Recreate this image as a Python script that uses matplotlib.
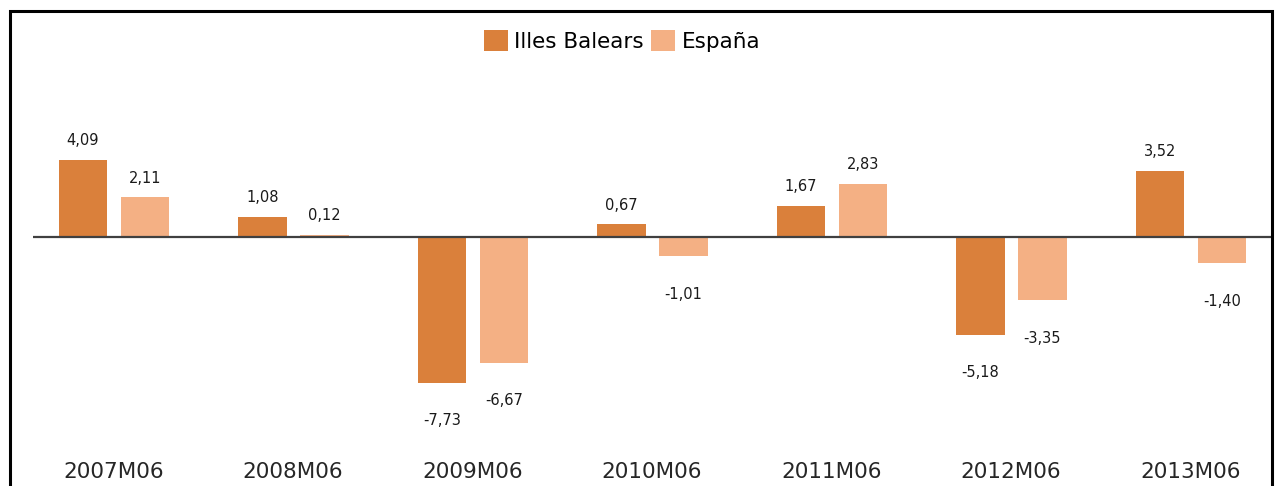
import matplotlib
matplotlib.use('Agg')
from matplotlib import pyplot as plt
from matplotlib.patches import Rectangle
import numpy as np

# datos
periodos = ['2007M06', '2008M06', '2009M06', '2010M06', '2011M06', '2012M06', '2013M06']
illes_balears = [4.09, 1.08, -7.73, 0.67, 1.67, -5.18, 3.52]
espana = [2.11, 0.12, -6.67, -1.01, 2.83, -3.35, -1.40]

col_ib = '#DA803B'
col_es = '#F4B084'

W, H = 1282, 486
fig = plt.figure(figsize=(W / 100, H / 100), dpi=100)

# ejes en pixeles: x 33..1271, y 60..450 (desde arriba)
ax = fig.add_axes([33 / W, 1 - 450 / H, (1271 - 33) / W, (450 - 60) / H])

x = np.arange(len(periodos))
ancho = 0.27
b1 = ax.bar(x - 0.17, illes_balears, ancho, color=col_ib, label='Illes Balears', zorder=2)
b2 = ax.bar(x + 0.175, espana, ancho, color=col_es, label='España', zorder=2)

ax.axhline(0, color='#404040', lw=1.6, zorder=3)

# etiquetas de valores
for barras, vals in [(b1, illes_balears), (b2, espana)]:
    for rect, v in zip(barras, vals):
        cx = rect.get_x() + rect.get_width() / 2
        off = 13.7 if v >= 0 else -27.4
        ax.annotate(f'{v:.2f}'.replace('.', ','), (cx, v), xytext=(0, off),
                    textcoords='offset points', ha='center', va='center',
                    fontsize=10.5, color='#1a1a1a')

ax.set_xlim(-0.4485, 6.4485)
ax.set_ylim(-11.30, 9.39)
ax.set_xticks(x)
ax.set_xticklabels(periodos, fontsize=15.5, color='#262626')
ax.tick_params(axis='x', length=0, pad=8.5)
ax.set_yticks([])
for s in ax.spines.values():
    s.set_visible(False)

fig.legend(loc='center', bbox_to_anchor=(622 / W, 1 - 41 / H), ncol=2,
           frameon=False, fontsize=15.5, handlelength=1.1, handleheight=1.1,
           handletextpad=0.3, columnspacing=0.35)

# marco del grafico
fig.patches.append(Rectangle((10 / W, -0.1), (1272 - 10) / W, 1.1 - 11.5 / H,
                             transform=fig.transFigure, fill=False,
                             edgecolor='black', lw=2.2, clip_on=False))

fig.savefig('out.png', dpi=100)
